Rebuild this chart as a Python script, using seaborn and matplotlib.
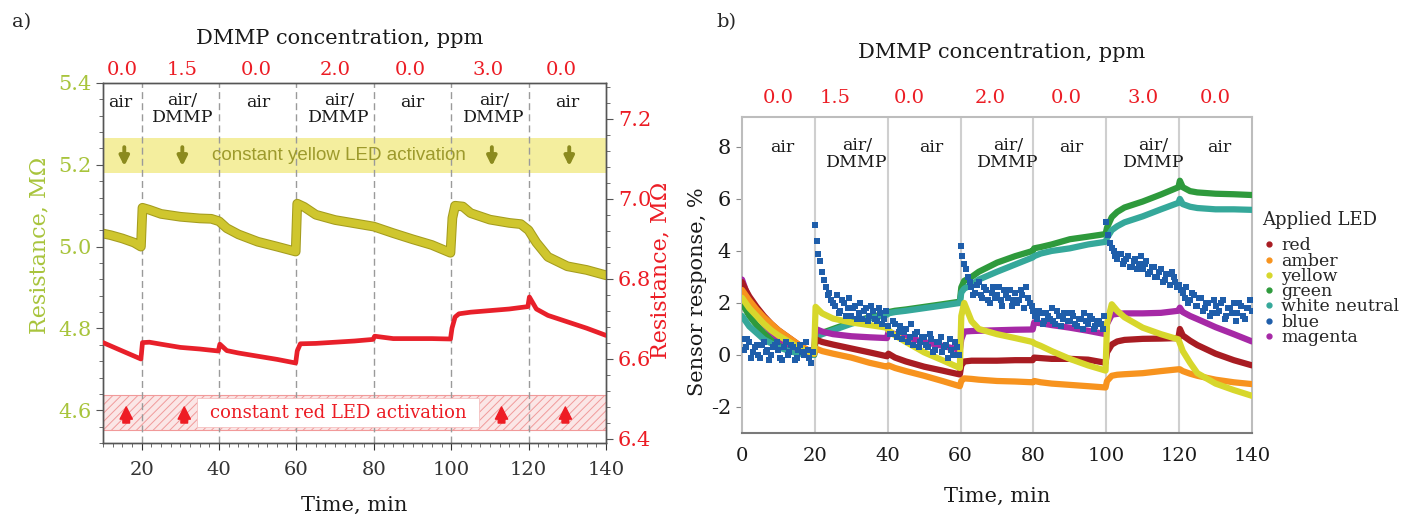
import numpy as np
import pandas as pd
import matplotlib
matplotlib.use("Agg")
import matplotlib.pyplot as plt
import seaborn as sns
from matplotlib.lines import Line2D
from matplotlib.patches import Rectangle
import matplotlib.patheffects as pe
from matplotlib.ticker import AutoMinorLocator, MultipleLocator

# ---------------- data: panel a ----------------
conc_labels = ["0.0", "1.5", "0.0", "2.0", "0.0", "3.0", "0.0"]
phase_labels = ["air", "air/\nDMMP", "air", "air/\nDMMP", "air", "air/\nDMMP", "air"]
switch_times = [20, 40, 60, 80, 100, 120]

t_yl = [10, 12, 15, 18, 19.8, 20.2, 22, 25, 30, 35, 38, 40, 42, 45, 50, 55, 59.8,
        60.2, 62, 65, 70, 75, 80, 85, 90, 95, 99.8, 100.3, 101, 103, 105, 110, 115,
        118, 120, 122, 125, 130, 135, 140]
yellow_res = [5.032, 5.028, 5.02, 5.01, 5.0, 5.095, 5.09, 5.08, 5.073, 5.069, 5.068,
              5.062, 5.045, 5.03, 5.012, 5.0, 4.988, 5.105, 5.097, 5.078, 5.065, 5.057,
              5.049, 5.033, 5.018, 5.004, 4.985, 5.07, 5.1, 5.098, 5.082, 5.066, 5.058,
              5.055, 5.04, 5.01, 4.975, 4.952, 4.943, 4.93]

t_rl = [10, 15, 19.8, 20.2, 22, 25, 30, 35, 39.8, 40.2, 42, 45, 50, 55, 59.8, 60.2, 61,
        65, 70, 75, 79.8, 80.2, 85, 90, 95, 99.8, 100.2, 101, 102, 105, 110, 115, 119.8,
        120.2, 122, 125, 130, 135, 140]
red_res = [6.641, 6.62, 6.60, 6.641, 6.642, 6.637, 6.629, 6.625, 6.62, 6.637, 6.621,
           6.615, 6.607, 6.599, 6.59, 6.62, 6.638, 6.639, 6.642, 6.645, 6.649, 6.657,
           6.651, 6.651, 6.651, 6.650, 6.677, 6.705, 6.713, 6.717, 6.721, 6.725, 6.731,
           6.755, 6.725, 6.709, 6.693, 6.677, 6.659]

# ---------------- data: panel b ----------------
t_r = [0, 1, 2, 4, 6, 8, 10, 13, 16, 19.8,
       20.2, 22, 25, 30, 35, 39.8,
       40.2, 42, 45, 50, 55, 59.8,
       60.2, 61, 63, 65, 70, 75, 79.8,
       80.2, 82, 85, 90, 95, 99.8,
       100.2, 101.5, 103, 105, 110, 115, 119.8,
       120.2, 121, 123, 125, 130, 135, 140]
led_red = [2.8, 2.5, 2.25, 1.85, 1.5, 1.2, 0.95, 0.65, 0.35, 0.05,
           0.6, 0.5, 0.4, 0.25, 0.1, -0.05,
           0.05, -0.1, -0.25, -0.45, -0.6, -0.75,
           -0.4, -0.25, -0.22, -0.22, -0.22, -0.2, -0.2,
           -0.1, -0.12, -0.15, -0.15, -0.18, -0.3,
           0.1, 0.4, 0.52, 0.58, 0.62, 0.63, 0.65,
           1.0, 0.75, 0.55, 0.38, 0.05, -0.2, -0.4]
led_amber = [2.5, 2.3, 2.1, 1.75, 1.45, 1.2, 0.95, 0.65, 0.35, 0.05,
             0.25, 0.15, 0.05, -0.1, -0.3, -0.45,
             -0.4, -0.5, -0.62, -0.8, -1.0, -1.2,
             -1.0, -0.9, -0.92, -0.95, -1.0, -1.02, -1.05,
             -1.0, -1.05, -1.1, -1.15, -1.2, -1.25,
             -1.0, -0.8, -0.76, -0.74, -0.7, -0.62, -0.55,
             -0.55, -0.62, -0.72, -0.8, -0.95, -1.05, -1.12]
led_yellow = [2.2, 2.0, 1.8, 1.5, 1.2, 0.95, 0.75, 0.5, 0.25, 0.05,
              1.85, 1.6, 1.4, 1.25, 1.15, 1.05,
              0.95, 0.75, 0.5, 0.1, -0.2, -0.5,
              1.5, 2.0, 1.3, 1.0, 0.8, 0.65, 0.5,
              0.45, 0.35, 0.15, -0.15, -0.4, -0.6,
              1.2, 1.95, 1.7, 1.45, 1.05, 0.8, 0.6,
              0.45, 0.15, -0.3, -0.7, -1.1, -1.35, -1.57]
led_green = [2.0, 1.75, 1.5, 1.15, 0.85, 0.6, 0.45, 0.25, 0.1, 0.0,
             0.75, 0.85, 1.0, 1.25, 1.45, 1.6,
             1.65, 1.7, 1.75, 1.85, 1.95, 2.05,
             2.6, 2.85, 3.0, 3.2, 3.55, 3.8, 4.0,
             4.1, 4.15, 4.25, 4.45, 4.55, 4.65,
             4.9, 5.3, 5.5, 5.67, 5.9, 6.17, 6.45,
             6.7, 6.45, 6.3, 6.25, 6.2, 6.18, 6.15]
led_white = [1.5, 1.3, 1.1, 0.85, 0.6, 0.45, 0.3, 0.15, 0.05, 0.0,
             0.7, 0.8, 0.95, 1.2, 1.4, 1.55,
             1.6, 1.65, 1.7, 1.8, 1.9, 2.0,
             2.4, 2.55, 2.7, 2.9, 3.2, 3.48, 3.75,
             3.8, 3.9, 4.0, 4.1, 4.25, 4.35,
             4.5, 4.8, 4.95, 5.1, 5.33, 5.6, 5.85,
             6.0, 5.8, 5.7, 5.65, 5.6, 5.6, 5.58]
led_magenta = [2.9, 2.5, 2.15, 1.6, 1.2, 0.9, 0.65, 0.4, 0.2, 0.05,
               1.0, 0.9, 0.8, 0.72, 0.68, 0.65,
               0.88, 0.8, 0.68, 0.5, 0.35, 0.2,
               0.6, 0.9, 0.92, 0.93, 0.95, 0.97, 0.98,
               1.25, 1.22, 1.15, 1.05, 0.93, 0.8,
               1.2, 1.55, 1.58, 1.6, 1.6, 1.62, 1.7,
               1.82, 1.65, 1.5, 1.38, 1.07, 0.8, 0.52]

# blue LED: noisy scatter, one reading per minute (a) and per half-minute offset (b)
blue_a = [0.6, 0.3, 0.5, 0.1, 0.4, -0.1, 0.5, 0.2, 0.0, 0.4,
          0.2, -0.2, 0.5, 0.1, 0.3, -0.1, 0.4, 0.0, 0.2, -0.3,
          5.0, 3.9, 3.2, 2.6, 2.4, 2.0, 2.3, 1.7, 2.0, 1.8,
          1.5, 1.9, 1.6, 1.4, 1.8, 1.5, 1.7, 1.3, 1.6, 1.4,
          1.1, 0.8, 1.2, 0.9, 0.6, 1.0, 0.7, 0.4, 0.9, 0.5,
          0.7, 0.3, 0.6, 0.2, 0.5, 0.1, 0.4, 0.6, 0.0, 0.3,
          4.2, 3.5, 3.0, 2.6, 2.4, 2.8, 2.2, 2.5, 2.0, 2.6,
          2.3, 2.1, 2.5, 2.2, 1.9, 2.4, 2.1, 2.3, 2.6, 2.0,
          1.7, 1.4, 1.6, 1.3, 1.5, 1.8, 1.2, 1.5, 1.4, 1.6,
          1.3, 1.5, 1.1, 1.4, 1.6, 1.2, 1.4, 1.1, 1.3, 1.0,
          5.1, 4.3, 4.0, 3.7, 3.9, 3.6, 3.8, 3.4, 3.7, 3.5,
          3.3, 3.6, 3.2, 3.4, 3.0, 3.3, 2.9, 3.1, 3.2, 2.8,
          2.7, 2.4, 2.6, 2.1, 2.3, 1.9, 2.2, 1.8, 2.0, 1.6,
          1.9, 1.7, 2.1, 1.5, 1.8, 2.0, 1.6, 1.9, 1.4, 1.8,
          1.7]
blue_b = [0.2, 0.6, -0.1, 0.3, 0.0, 0.4, 0.1, -0.2, 0.3, 0.5,
          -0.1, 0.3, 0.0, 0.4, -0.2, 0.2, 0.1, 0.5, -0.1, 0.1,
          4.4, 3.6, 2.9, 2.3, 2.1, 1.9, 1.6, 2.1, 1.5, 2.2,
          1.8, 1.4, 2.0, 1.7, 1.3, 1.9, 1.4, 1.8, 1.2, 1.7,
          0.8, 1.3, 0.7, 1.1, 0.9, 0.5, 1.2, 0.8, 0.3, 0.7,
          0.4, 0.8, 0.1, 0.5, 0.7, 0.3, -0.1, 0.2, 0.5, 0.0,
          3.8, 3.3, 2.8, 2.3, 2.7, 2.3, 2.6, 2.1, 2.4, 2.2,
          2.6, 1.9, 2.3, 2.5, 2.1, 2.0, 2.5, 1.8, 2.2, 1.9,
          1.5, 1.7, 1.2, 1.6, 1.4, 1.3, 1.7, 1.1, 1.6, 1.3,
          1.6, 1.2, 1.4, 1.0, 1.3, 1.5, 1.0, 1.3, 1.2, 1.5,
          4.6, 4.1, 3.8, 3.9, 3.5, 3.7, 3.4, 3.6, 3.3, 3.8,
          3.5, 3.1, 3.4, 3.0, 3.2, 2.8, 3.1, 2.7, 3.0, 2.6,
          2.5, 2.2, 2.0, 2.4, 1.9, 2.2, 1.7, 2.0, 1.5, 2.1,
          1.6, 2.0, 1.4, 1.8, 1.6, 1.3, 2.0, 1.5, 1.8, 2.1]
t_blue_a = np.arange(len(blue_a), dtype=float)
t_blue_b = np.arange(len(blue_b), dtype=float) + 0.5

led_names = ["red", "amber", "yellow", "green", "white neutral", "blue", "magenta"]
led_colors = ["#a81c22", "#f7931e", "#d7d72c", "#2e9a3c", "#35a89a", "#1f5eaa", "#a629a6"]

# ---------------- styling ----------------
sns.set_style("ticks")
plt.rcParams["font.family"] = ["DejaVu Serif"]
plt.rcParams["hatch.linewidth"] = 0.7
plt.rcParams["axes.unicode_minus"] = False

GREEN_TXT = "#a8c43c"
RED_TXT = "#ec1c24"

fig = plt.figure(figsize=(14.13, 5.18), dpi=100)

# ================= Panel a =================
ax = fig.add_axes([103 / 1413, 1 - 443 / 518, 503 / 1413, 360 / 518])
ax2 = ax.twinx()

ax.set_xlim(10, 140)
ax.set_ylim(4.52, 5.40)
ax2.set_ylim(6.39, 7.29)

# bands
ax.add_patch(Rectangle((10, 5.179), 130, 0.086, facecolor="#f4ee9e", edgecolor="none",
                       zorder=1))
ax.add_patch(Rectangle((10, 4.551), 130, 0.086, facecolor="#fbe6e6", edgecolor="#f19a9a",
                       hatch="////", lw=0.8, zorder=1))
ax.add_patch(Rectangle((34.2, 4.559), 73.0, 0.071, facecolor="white", edgecolor="#f5c0c0",
                       lw=0.6, zorder=2))

for s in switch_times:
    ax.axvline(s, color="#9a9a9a", lw=1.0, ls=(0, (5, 3)), zorder=1.5)

sns.lineplot(x=t_yl, y=yellow_res, ax=ax, color="#cfc62e", lw=5.5, estimator=None,
             sort=False, zorder=3,
             path_effects=[pe.Stroke(linewidth=7, foreground="#a49c1e"), pe.Normal()])
sns.lineplot(x=t_rl, y=red_res, ax=ax2, color="#e8202a", lw=3.4, estimator=None,
             sort=False, zorder=3)

ax.text(71, 5.222, "constant yellow LED activation", ha="center", va="center",
        fontsize=13.5, color="#9d9a2c", family=["Liberation Sans"], zorder=4)
ax.text(70.7, 4.594, "constant red LED activation", ha="center", va="center",
        fontsize=13, color=RED_TXT, zorder=4)

for xa in [15.5, 30.5, 110.5, 130.5]:
    ax.annotate("", xy=(xa, 5.19), xytext=(xa, 5.25),
                arrowprops=dict(arrowstyle="-|>", color="#8b8a1e", lw=2.8,
                                mutation_scale=14), zorder=4)
for xa in [16, 31, 113, 129.5]:
    ax.annotate("", xy=(xa, 4.615), xytext=(xa, 4.562),
                arrowprops=dict(arrowstyle="simple,head_width=0.55,head_length=0.55,tail_width=0.3",
                                color="#ee1c24", mutation_scale=16), zorder=4)

# labels on top
tr_a = ax.get_xaxis_transform()
for x, lab in zip([15, 30.5, 49.5, 70, 89.5, 109.5, 128.5], conc_labels):
    ax.text(x, 1.035, lab, transform=tr_a, ha="center", va="center", fontsize=14,
            color=RED_TXT)
for x, lab in zip([14.5, 30.5, 50, 71, 90, 111, 130], phase_labels):
    yy = 0.947 if "\n" not in lab else 0.928
    ax.text(x, yy, lab, transform=tr_a, ha="center", va="center", fontsize=12.5,
            color="#1a1a1a", linespacing=1.05)

fig.text(340 / 1413, 1 - 38 / 518, "DMMP concentration, ppm", ha="center", va="center",
         fontsize=15, color="#1a1a1a")
fig.text(12 / 1413, 1 - 22 / 518, "a)", ha="left", va="center", fontsize=14)

ax.set_xticks([20, 40, 60, 80, 100, 120, 140])
ax.set_yticks([4.6, 4.8, 5.0, 5.2, 5.4])
ax.yaxis.set_major_formatter(matplotlib.ticker.FormatStrFormatter("%.1f"))
ax2.set_yticks([6.4, 6.6, 6.8, 7.0, 7.2])
ax2.yaxis.set_major_formatter(matplotlib.ticker.FormatStrFormatter("%.1f"))
ax.xaxis.set_minor_locator(MultipleLocator(2.5))
ax.yaxis.set_minor_locator(AutoMinorLocator(5))
ax2.yaxis.set_minor_locator(AutoMinorLocator(5))
ax.tick_params(axis="x", labelsize=14, colors="#333333", length=5, pad=8)
ax.tick_params(axis="x", which="minor", length=3, colors="#555555")
ax.tick_params(axis="y", labelsize=15, labelcolor=GREEN_TXT, color="#555555", length=5)
ax.tick_params(axis="y", which="minor", length=3, color="#555555")
ax2.tick_params(axis="y", labelsize=15, labelcolor=RED_TXT, color="#555555", length=5)
ax2.tick_params(axis="y", which="minor", length=3, color="#555555")
for a in (ax, ax2):
    for sp in a.spines.values():
        sp.set_color("#555555")
        sp.set_linewidth(1.0)

ax.set_xlabel("Time, min", fontsize=15, color="#1a1a1a")
ax.xaxis.set_label_coords(0.5, -0.148)
ax.set_ylabel("Resistance, MΩ", fontsize=16, color=GREEN_TXT)
ax.yaxis.set_label_coords(-0.105, 0.55)
ax2.set_ylabel("Resistance, MΩ", fontsize=16, color=RED_TXT)
ax2.yaxis.set_label_coords(1.087, 0.48)

# ================= Panel b =================
bx = fig.add_axes([742 / 1413, 1 - 433 / 518, 510 / 1413, 316 / 518])
bx.set_xlim(0, 140)
bx.set_ylim(-3, 9.15)

for s in switch_times:
    bx.axvline(s, color="#cfcfcf", lw=1.5, zorder=1)

series = [led_red, led_amber, led_yellow, led_green, led_white, None, led_magenta]
order = [3, 4, 6, 0, 1, 2]
for i in order:
    sns.lineplot(x=t_r, y=series[i], ax=bx, color=led_colors[i], lw=4.5, estimator=None,
                 sort=False, zorder=3)
sns.scatterplot(x=t_blue_a, y=blue_a, ax=bx, color=led_colors[5], s=16, marker="s",
                linewidth=0, zorder=4)
sns.scatterplot(x=t_blue_b, y=blue_b, ax=bx, color=led_colors[5], s=16, marker="s",
                linewidth=0, zorder=4)

tr_b = bx.get_xaxis_transform()
for x, lab in zip([10, 25.5, 46, 68, 89, 110, 130], conc_labels):
    bx.text(x, 1.06, lab, transform=tr_b, ha="center", va="center", fontsize=14,
            color=RED_TXT)
for x, lab in zip([11, 31.5, 52, 73, 90.5, 113, 131], phase_labels):
    yy = 0.902 if "\n" not in lab else 0.883
    bx.text(x, yy, lab, transform=tr_b, ha="center", va="center", fontsize=12.5,
            color="#1a1a1a", linespacing=1.05)

fig.text(1002 / 1413, 1 - 52 / 518, "DMMP concentration, ppm", ha="center", va="center",
         fontsize=15, color="#1a1a1a")
fig.text(716 / 1413, 1 - 22 / 518, "b)", ha="left", va="center", fontsize=14)

bx.set_xticks([0, 20, 40, 60, 80, 100, 120, 140])
bx.set_yticks([-2, 0, 2, 4, 6, 8])
bx.tick_params(axis="x", labelsize=14, colors="#1a1a1a", length=0, pad=10)
bx.tick_params(axis="y", labelsize=15, colors="#1a1a1a", length=4, pad=4)
bx.tick_params(axis="y", color="#888888")
for k, sp in bx.spines.items():
    sp.set_color("#bdbdbd")
    sp.set_linewidth(1.5)
bx.spines["bottom"].set_color("#7a7a7a")

bx.set_xlabel("Time, min", fontsize=15, color="#1a1a1a")
bx.xaxis.set_label_coords(0.5, -0.172)
bx.set_ylabel("Sensor response, %", fontsize=15, color="#1a1a1a")
bx.yaxis.set_label_coords(-0.069, 0.446)

handles = [Line2D([], [], marker="o", ls="", color=c, markersize=3.5) for c in led_colors]
leg = bx.legend(handles, led_names, title="Applied LED", loc="upper left",
                bbox_to_anchor=(1262 / 1413, 1 - 211 / 518), bbox_transform=fig.transFigure,
                frameon=False, fontsize=12.5, title_fontsize=13, labelspacing=-0.1,
                handletextpad=0.3, handlelength=0.8, borderaxespad=0, borderpad=0)
leg._legend_box.align = "left"
leg._legend_box.sep = 6

fig.savefig("out.png", dpi=100)
